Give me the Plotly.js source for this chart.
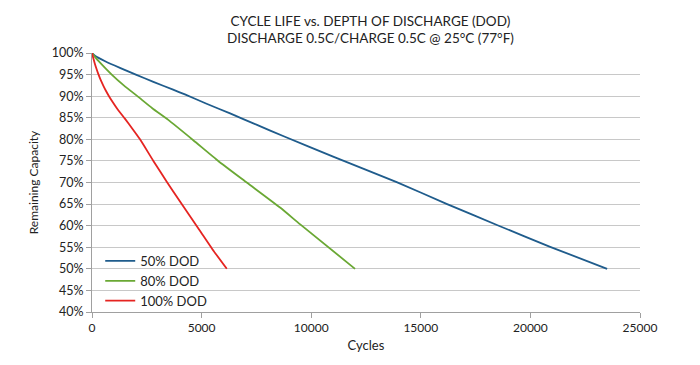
<!DOCTYPE html>
<html>
<head>
<meta charset="utf-8">
<script src="https://cdn.plot.ly/plotly-3.0.1.min.js"></script>
<style>html,body{margin:0;padding:0;background:#fff;}#chart{width:700px;height:365px;}</style>
</head>
<body>
<div id="chart"></div>
<script>
// Series 50% DOD
const dod50Cycles = [0, 150, 600, 1300, 2000, 2800, 3700, 4240, 5200, 6300, 7500, 8800, 11000, 13900, 16200, 18500, 20900, 23500];
const dod50Capacity = [100, 99.3, 98.1, 96.5, 95.0, 93.3, 91.5, 90.4, 88.3, 86.0, 83.4, 80.6, 76.0, 70.1, 65.0, 60.1, 55.1, 50];
// Series 80% DOD
const dod80Cycles = [0, 150, 400, 900, 1450, 2070, 2750, 3480, 4620, 5760, 7060, 8580, 9500, 12000];
const dod80Capacity = [100, 99.0, 97.6, 95.0, 92.5, 90.0, 87.2, 84.5, 79.8, 75.0, 70.0, 64.2, 60.3, 50];
// Series 100% DOD
const dod100Cycles = [0, 60, 120, 200, 290, 400, 520, 640, 775, 950, 1150, 1500, 1850, 2190, 2800, 3410, 4000, 4900, 5500, 6150];
const dod100Capacity = [100, 98.8, 97.7, 96.4, 95.1, 93.7, 92.4, 91.2, 90.0, 88.6, 87.1, 84.8, 82.4, 80.0, 75.0, 70.2, 65.7, 59.0, 54.5, 50];

const seriesNames = ["50% DOD", "80% DOD", "100% DOD"];
const titleLines = ["CYCLE LIFE vs. DEPTH OF DISCHARGE (DOD)", "DISCHARGE 0.5C/CHARGE 0.5C @ 25°C (77°F)"];

const FONT = "Lato, 'Open Sans', sans-serif";
const lineStyle = (c) => ({color: c, width: 1.8, shape: "spline", smoothing: 0.5});
const traces = [
  {x: dod50Cycles, y: dod50Capacity, name: seriesNames[0], mode: "lines", line: lineStyle("#1f5c8c")},
  {x: dod80Cycles, y: dod80Capacity, name: seriesNames[1], mode: "lines", line: lineStyle("#6aa834")},
  {x: dod100Cycles, y: dod100Capacity, name: seriesNames[2], mode: "lines", line: lineStyle("#e52421")}
];
const layout = {
  width: 700, height: 365,
  margin: {l: 92, r: 60, t: 53, b: 53},
  paper_bgcolor: "#fff", plot_bgcolor: "#fff",
  font: {family: FONT, size: 12, color: "#222"},
  title: {text: titleLines.join("<br>"), x: 0.508, xref: "paper", yref: "container", y: 0.93, yanchor: "bottom", font: {family: FONT, size: 13.5, color: "#222"}},
  showlegend: true,
  legend: {x: 0.015, y: 0.255, xanchor: "left", yanchor: "top", bgcolor: "rgba(0,0,0,0)", font: {family: FONT, size: 13, color: "#222"}, tracegroupgap: 0, itemwidth: 30},
  xaxis: {
    range: [0, 25000], dtick: 5000, tick0: 0, tickformat: "d",
    showgrid: false, zeroline: false,
    showline: true, linecolor: "#a0a0a0", linewidth: 1,
    ticks: "outside", ticklen: 5, tickcolor: "#a0a0a0",
    tickfont: {family: FONT, size: 12, color: "#222"},
    title: {text: "Cycles", font: {family: FONT, size: 13, color: "#222"}, standoff: 6}
  },
  yaxis: {
    range: [40, 100], dtick: 5, tick0: 40, ticksuffix: "%",
    showgrid: true, gridcolor: "#c8c8c8", gridwidth: 1, zeroline: false,
    showline: true, linecolor: "#a0a0a0", linewidth: 1,
    ticks: "outside", ticklen: 5, tickcolor: "#a0a0a0",
    tickfont: {family: FONT, size: 12.5, color: "#222"},
    title: {text: "Remaining Capacity", font: {family: FONT, size: 12, color: "#222"}, standoff: 10}
  }
};
Plotly.newPlot("chart", traces, layout, {displayModeBar: false, staticPlot: true});
</script>
</body>
</html>
